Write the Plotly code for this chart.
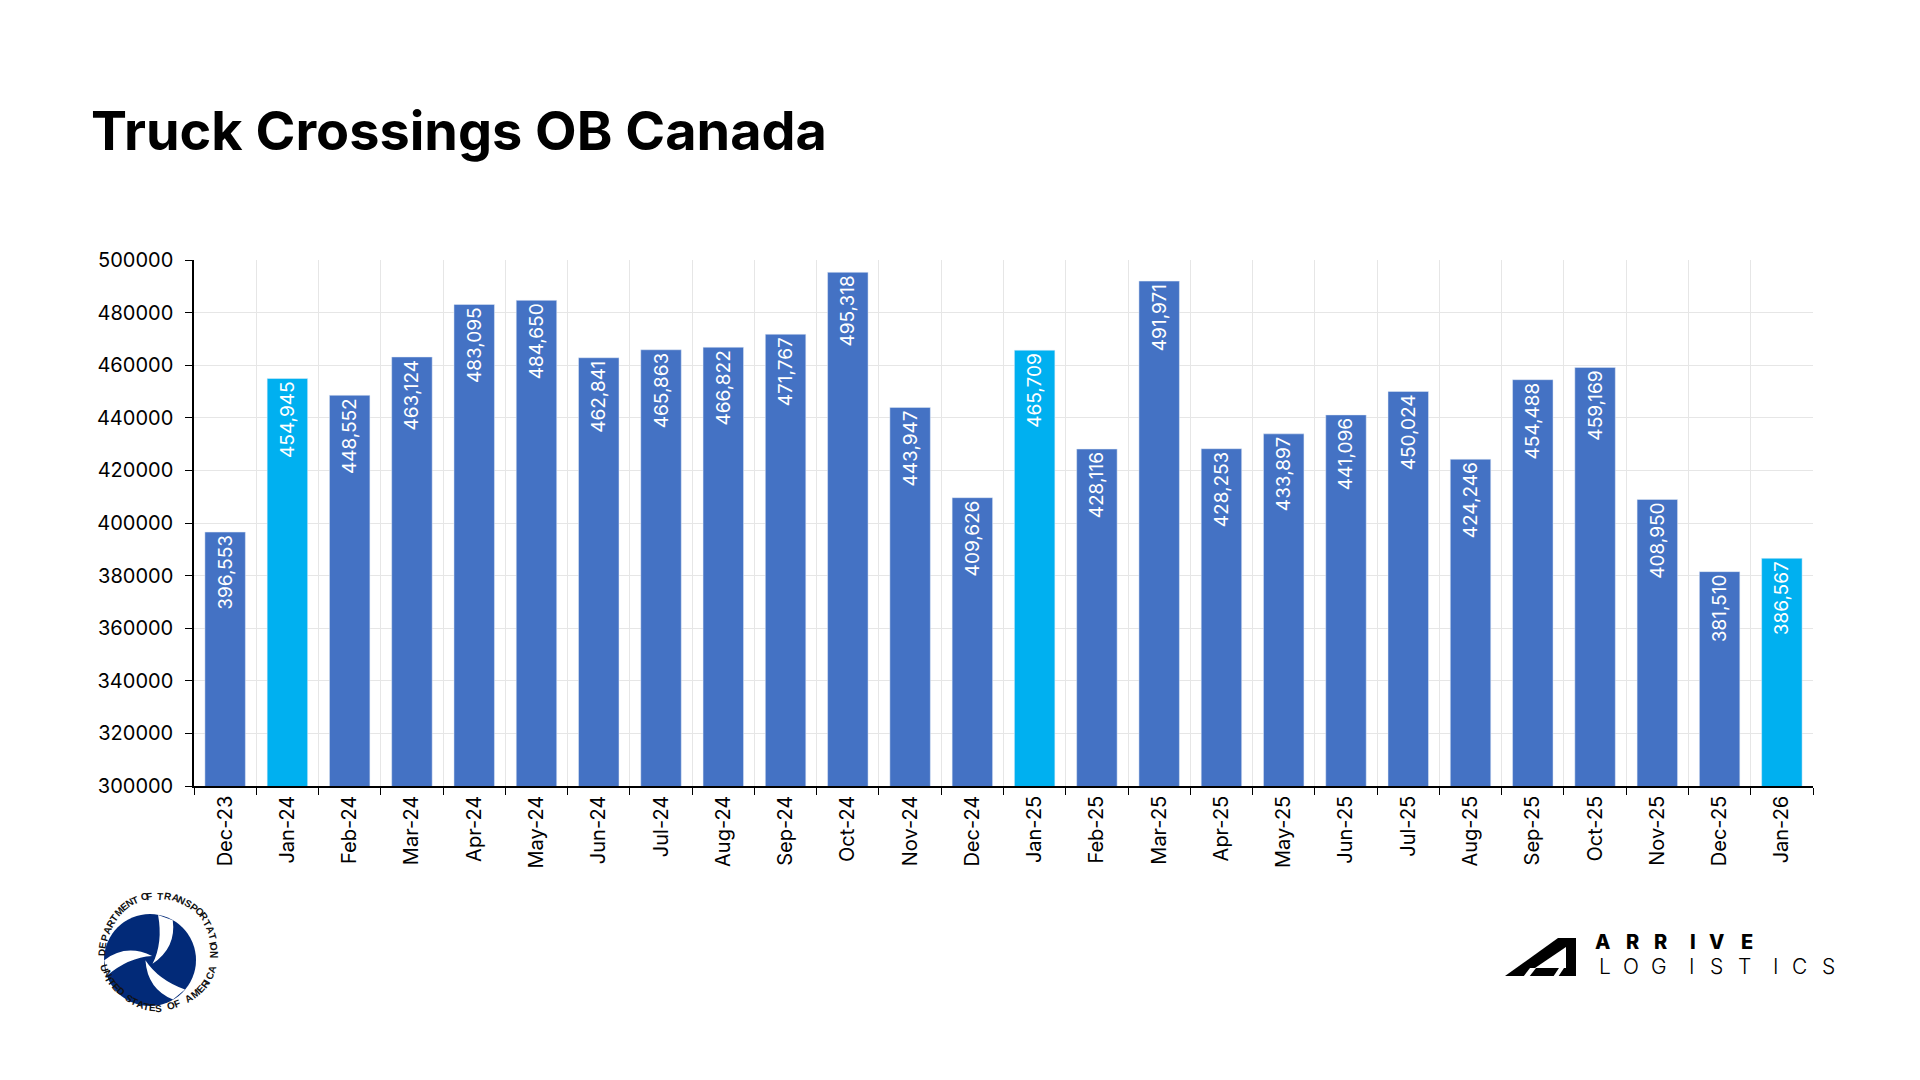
import math
import plotly.graph_objects as go

# monthly truck crossings, outbound to Canada
months = ["Dec-23", "Jan-24", "Feb-24", "Mar-24", "Apr-24", "May-24", "Jun-24",
          "Jul-24", "Aug-24", "Sep-24", "Oct-24", "Nov-24", "Dec-24", "Jan-25",
          "Feb-25", "Mar-25", "Apr-25", "May-25", "Jun-25", "Jul-25", "Aug-25",
          "Sep-25", "Oct-25", "Nov-25", "Dec-25", "Jan-26"]
crossings = [396553, 454945, 448552, 463124, 483095, 484650, 462841,
             465863, 466822, 471767, 495318, 443947, 409626, 465709,
             428116, 491971, 428253, 433897, 441096, 450024, 424246,
             454488, 459169, 408950, 381510, 386567]
y_ticks = list(range(300000, 500001, 20000))

BLUE = "#4472C4"
JAN_BLUE = "#00B0F0"
FONT = "Inter"

W, H = 1920, 1080
L, R, T, B = 186, 115, 252, 302
PW, PH = W - L - R, H - T - B


# pixel position on the page -> paper coords (for the logos)
def pp(x, y):
    return (x - L) / PW, (H - B - y) / PH


def path_from(pts, close=True):
    s = ""
    for i, (x, y) in enumerate(pts):
        px_, py_ = pp(x, y)
        s += ("M" if i == 0 else "L") + f"{px_:.5f},{py_:.5f} "
    return s + ("Z" if close else "")


# rough glyph widths so the seal lettering is evenly spaced
def char_w(ch):
    if ch == " ":
        return 0.45
    if ch == "I":
        return 0.35
    if ch in "MW":
        return 0.95
    return 0.75


def arc_angles(txt, start, end):
    ws = [char_w(c) for c in txt]
    tot = sum(ws) - (ws[0] + ws[-1]) / 2
    out, acc = [], 0.0
    for i, w in enumerate(ws):
        if i > 0:
            acc += (ws[i - 1] + w) / 2
        out.append(start + (end - start) * acc / tot)
    return out


colors = [JAN_BLUE if m.startswith("Jan") else BLUE for m in months]

fig = go.Figure()
fig.add_trace(go.Bar(x=months, y=crossings, marker_color=colors,
                     texttemplate="%{y:,}", textposition="inside",
                     insidetextanchor="end", textangle=-90,
                     textfont=dict(color="white", size=19, family=FONT),
                     cliponaxis=False, hoverinfo="x+y"))

fig.update_layout(
    width=W, height=H, margin=dict(l=L, r=R, t=T, b=B),
    plot_bgcolor="white", paper_bgcolor="white", showlegend=False,
    bargap=0.35, font=dict(family=FONT, color="black", size=20),
    title=dict(text="Truck Crossings OB Canada", xref="container", yref="container",
               x=83 / W, xanchor="left", y=1 - 123 / H, yanchor="middle",
               font=dict(family=FONT, size=54, color="black", weight=700)),
    xaxis=dict(type="category", tickangle=-90, tickson="boundaries",
               ticks="outside", ticklen=7, tickcolor="black",
               showline=True, linecolor="black", linewidth=1.5,
               showgrid=True, gridcolor="#e6e6e6", gridwidth=1,
               tickfont=dict(size=20), mirror=False),
    yaxis=dict(range=[300000, 500000], tickvals=y_ticks, tickformat="d",
               ticks="outside", ticklen=7, tickcolor="black",
               showline=True, linecolor="black", linewidth=1.5,
               showgrid=True, gridcolor="#e6e6e6", gridwidth=1,
               tickfont=dict(size=20), ticklabelstandoff=8, zeroline=False),
)

shapes = []
annotations = []

# --- DOT seal (bottom left) ---
cx, cy, rd = 142, 952, 46
x0, y0 = pp(cx - rd, cy + rd)
x1, y1 = pp(cx + rd, cy - rd)
shapes.append(dict(type="circle", xref="paper", yref="paper", x0=x0, y0=y0, x1=x1, y1=y1,
                   fillcolor="#022A78", line=dict(width=0), layer="above"))
# three white swooshes
arm = [(0.17, 0.98), (0.45, 0.45), (0.08, -0.06), (0.14, 0.45), (-0.17, 0.98)]
for k in range(3):
    a = math.radians(-20 + 120 * k)
    pts = []
    for (ax, ay) in arm:
        rx = ax * math.cos(a) - ay * math.sin(a)
        ry = ax * math.sin(a) + ay * math.cos(a)
        pts.append(pp(cx + rd * rx, cy - rd * ry))
    p = f"M{pts[0][0]:.5f},{pts[0][1]:.5f} Q{pts[1][0]:.5f},{pts[1][1]:.5f} {pts[2][0]:.5f},{pts[2][1]:.5f} " \
        f"Q{pts[3][0]:.5f},{pts[3][1]:.5f} {pts[4][0]:.5f},{pts[4][1]:.5f} Z"
    shapes.append(dict(type="path", xref="paper", yref="paper", path=p,
                       fillcolor="white", line=dict(width=0), layer="above"))

rt = 56
seal_font = dict(family="Liberation Sans", size=10, weight=700, color="#111111")
top_txt = "DEPARTMENT OF TRANSPORTATION"
for ch, th in zip(top_txt, arc_angles(top_txt, 178, 0)):
    if ch == " ":
        continue
    x, y = pp(cx + rt * math.cos(math.radians(th)), cy - rt * math.sin(math.radians(th)))
    annotations.append(dict(text=ch, x=x, y=y, xref="paper", yref="paper", showarrow=False,
                            textangle=90 - th, font=seal_font))
bot_txt = "UNITED STATES OF AMERICA"
for ch, th in zip(bot_txt, arc_angles(bot_txt, 196, 342)):
    if ch == " ":
        continue
    x, y = pp(cx + rt * math.cos(math.radians(th)), cy - rt * math.sin(math.radians(th)))
    annotations.append(dict(text=ch, x=x, y=y, xref="paper", yref="paper", showarrow=False,
                            textangle=270 - th, font=seal_font))

# --- Arrive Logistics logo (bottom right) ---
shapes.append(dict(type="path", xref="paper", yref="paper",
                   path=path_from([(1497, 968), (1550, 930), (1568, 930), (1568, 968)]),
                   fillcolor="black", line=dict(width=0), layer="above"))
for poly in ([(1527, 960), (1558, 939), (1558, 960)],
             [(1515, 969), (1521, 969), (1528, 960), (1522, 960)],
             [(1545, 969), (1550, 969), (1556, 960), (1551, 960)]):
    shapes.append(dict(type="path", xref="paper", yref="paper", path=path_from(poly),
                       fillcolor="white", line=dict(width=0), layer="above"))

for i, ch in enumerate("ARRIVE"):
    x, y = pp(1604 + i * 28.5, 948)
    annotations.append(dict(text=ch, x=x, y=y, xref="paper", yref="paper", showarrow=False,
                            font=dict(family=FONT, size=20, weight=800)))
for i, ch in enumerate("LOGISTICS"):
    x, y = pp(1605 + i * 28.0, 973)
    annotations.append(dict(text=ch, x=x, y=y, xref="paper", yref="paper", showarrow=False,
                            font=dict(family=FONT, size=21, weight=300)))

fig.update_layout(shapes=shapes, annotations=annotations)
fig.write_html("out.html")
